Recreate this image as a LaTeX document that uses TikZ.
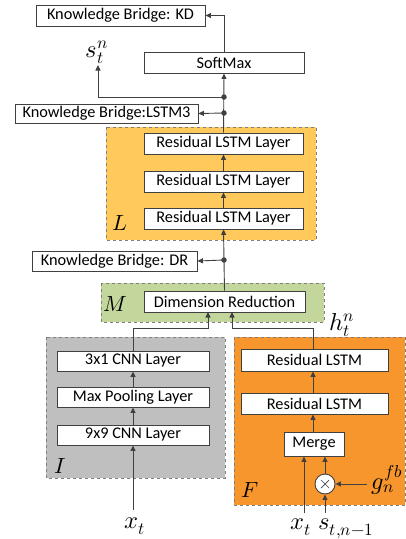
\documentclass[tikz,border=0pt]{standalone}
\usepackage{fontspec}
\usepackage{unicode-math}
\setmainfont{Carlito}
\setmathfont{Latin Modern Math}
\usetikzlibrary{arrows.meta,calc}
\definecolor{lineg}{HTML}{404040}
\definecolor{dashg}{HTML}{7F7F7F}
\definecolor{lorange}{HTML}{FFC95C}
\definecolor{dorange}{HTML}{F7962D}
\definecolor{lgreen}{HTML}{C3D69B}
\definecolor{lgray}{HTML}{BFBFBF}
\begin{document}
\begin{tikzpicture}[x=1pt,y=-1pt,
  box/.style={draw=lineg,fill=white,line width=0.9pt,inner sep=0pt,
    font=\fontsize{16.3}{18}\selectfont,minimum height=21pt},
  container/.style={draw=dashg,dashed,line width=1pt},
  clbl/.style={inner sep=0pt,font=\fontsize{22}{24}\selectfont},
  lbl/.style={inner sep=0pt,font=\fontsize{24.5}{26}\selectfont},
  conn/.style={draw=lineg,line width=0.9pt},
  arr/.style={conn,-{Triangle[length=5.5pt,width=5pt]}},
  dot/.style={circle,fill=lineg,inner sep=0pt,minimum size=5.5pt}]
\useasboundingbox (0,0) rectangle (406,539);
% containers
\fill[lorange] (106,127) rectangle (316,240);
\draw[container] (106,127) rectangle (316,240);
\fill[lgreen] (101,283) rectangle (324,322);
\draw[container] (101,283) rectangle (324,322);
\fill[lgray] (46,337) rectangle (225,478);
\draw[container] (46,337) rectangle (225,478);
\fill[dorange] (234,337) rectangle (405,505);
\draw[container] (234,337) rectangle (405,505);
% labels of containers
\node[clbl] (labL) at (120,223) {$L$};
\node[clbl] (labM) at (115,304) {$M$};
\node[clbl] (labI) at (60,466) {$I$};
\node[clbl] (labF) at (250,490) {$F$};
% boxes
\node[box,minimum width=169pt] (kd) at (120.5,15.5) {Knowledge Bridge: KD};
\node[box,minimum width=160pt] (soft) at (224,62.5) {SoftMax};
\node[box,minimum width=183pt,minimum height=19pt] (lstm3) at (106.5,113.5) {Knowledge Bridge:LSTM3};
\node[box,minimum width=159pt] (rl1) at (223.5,143.5) {Residual LSTM Layer};
\node[box,minimum width=159pt] (rl2) at (223.5,181.5) {Residual LSTM Layer};
\node[box,minimum width=159pt] (rl3) at (223.5,218.5) {Residual LSTM Layer};
\node[box,minimum width=165pt,minimum height=20pt] (dr) at (114.5,261) {Knowledge Bridge: DR};
\node[box,minimum width=161pt] (dim) at (224.5,301.5) {Dimension Reduction};
\node[box,minimum width=152pt,minimum height=20pt] (cnn3) at (133,361) {3x1 CNN Layer};
\node[box,minimum width=152pt,minimum height=20pt] (pool) at (133,397) {Max Pooling Layer};
\node[box,minimum width=152pt,minimum height=20pt] (cnn9) at (133,435) {9x9 CNN Layer};
\node[box,minimum width=147pt,minimum height=22pt] (fl1) at (314.5,360) {Residual LSTM};
\node[box,minimum width=147pt] (fl2) at (314.5,403.5) {Residual LSTM};
\node[box,minimum width=60pt,minimum height=24pt] (merge) at (314,444) {Merge};
\node[circle,draw=lineg,fill=white,line width=0.9pt,minimum size=20pt,inner sep=0pt] (mul) at (325,484) {};
\draw[lineg,line width=0.7pt] ($(mul)+(-4,-4)$) -- ($(mul)+(4,4)$) ($(mul)+(-4,4)$) -- ($(mul)+(4,-4)$);
% math labels
\node[lbl,anchor=base] (st) at (97,57) {$s_t^n$};
\node[lbl,anchor=base] (ht) at (342,330) {$h_t^n$};
\node[lbl,anchor=base] (gn) at (387,489) {$g_n^{fb}$};
\node[lbl,anchor=base] (xi) at (135,528) {$x_t$};
\node[lbl,anchor=base] (xf) at (301,529) {$x_t$};
\node[lbl,anchor=base] (sf) at (346,529) {$s_{t,n-1}$};
% coordinates
\coordinate (d1) at (224,97);
\coordinate (d2) at (224,113);
\coordinate (d3) at (224,260);
\coordinate (sttip) at (98,65);
\coordinate (xib) at (133,510);
\coordinate (xfb) at (304,513);
\coordinate (sfb) at (325,513);
\coordinate (gnb) at (367,484);
% connectors
\draw[arr] (rl1.north) -- (soft.south);
\draw[arr] (soft.north) |- (kd.east);
\draw[arr] (d1) -| (sttip);
\draw[arr] (d2) -- (lstm3.east);
\node[dot] (dd1) at (d1) {};
\node[dot] (dd2) at (d2) {};
\draw[arr] (rl2.north) -- (rl1.south);
\draw[arr] (rl3.north) -- (rl2.south);
\draw[arr] (dim.north) -- (rl3.south);
\draw[arr] (d3) -- (dr.east);
\node[dot] (dd3) at (d3) {};
\draw[arr] (cnn3.north) |- (208,328) -- (208,312);
\draw[arr] (fl1.north -| 313,0) |- (232,328) -- (232,312);
\draw[arr] (xib) -- (cnn9.south);
\draw[arr] (cnn9.north) -- (pool.south);
\draw[arr] (pool.north) -- (cnn3.south);
\draw[arr] (fl2.north -| 313,0) -- (fl1.south -| 313,0);
\draw[arr] (merge.north -| 313,0) -- (fl2.south -| 313,0);
\draw[arr] (xfb) -- (merge.south -| xfb);
\draw[arr] (mul.north) -- (merge.south -| mul.north);
\draw[arr] (sfb) -- (mul.south);
\draw[arr] (gnb) -- (mul.east);
\end{tikzpicture}
\end{document}
